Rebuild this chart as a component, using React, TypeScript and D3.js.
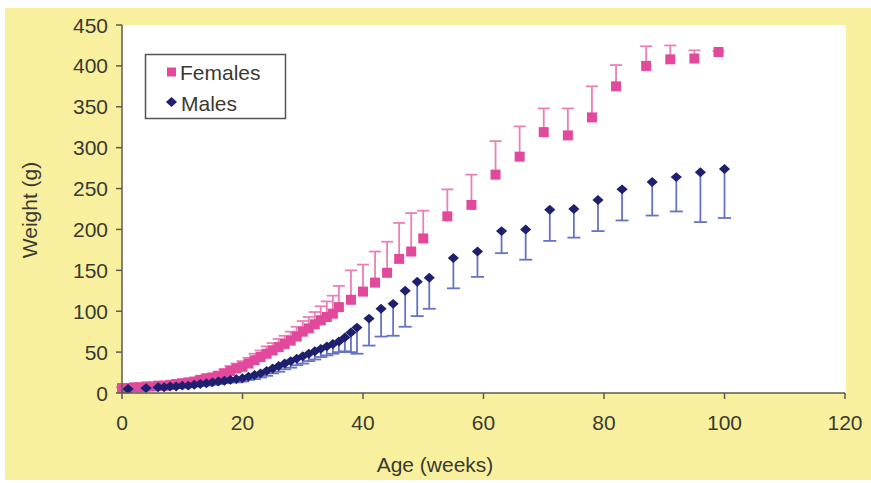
import React from 'react';
import * as d3 from 'd3';

// Females: age (weeks), mean weight (g), error (upper, g)
const femaleWeeks = [0, 1, 2, 3, 4, 5, 6, 7, 8, 9, 10, 11, 12, 13, 14, 15, 16, 17, 18, 19, 20, 21, 22, 23, 24, 25, 26, 27, 28, 29, 30, 31, 32, 33, 34, 35, 36,
    38, 40, 42, 44, 46, 48, 50, 54, 58, 62, 66, 70, 74, 78, 82, 87, 91, 95, 99];
const femaleWeight = [6, 6, 7, 7, 8, 8, 9, 9, 10, 11, 12, 13, 14, 16, 18, 19, 21, 24, 27, 30, 32, 36, 40, 44, 48, 52, 56, 60, 64, 69, 75, 79, 84, 89, 93, 97, 105,
    114, 124, 135, 147, 164, 173, 189, 216, 230, 267, 289, 319, 315, 337, 375, 400, 408, 409, 417];
const femaleErr = [1, 1, 1, 1, 1, 2, 2, 2, 2, 2, 3, 3, 3, 4, 4, 4, 5, 5, 6, 6, 7, 7, 8, 8, 9, 9, 10, 10, 11, 12, 13, 14, 15, 17, 19, 22, 26,
    36, 33, 38, 38, 44, 47, 34, 33, 37, 41, 37, 29, 33, 38, 26, 24, 17, 10, 1];

// Males: age (weeks), mean weight (g), error (lower, g)
const maleWeeks = [1, 4, 6, 7, 8, 9, 10, 11, 12, 13, 14, 15, 16, 17, 18, 19, 20, 21, 22, 23, 24, 25, 26, 27, 28, 29, 30, 31, 32, 33, 34, 35, 36, 37, 38, 39,
    41, 43, 45, 47, 49, 51, 55, 59, 63, 67, 71, 75, 79, 83, 88, 92, 96, 100];
const maleWeight = [5, 6, 7, 7, 8, 8, 9, 9, 10, 11, 12, 13, 14, 15, 16, 17, 18, 20, 22, 24, 27, 30, 33, 36, 39, 42, 45, 48, 51, 54, 57, 60, 63, 68, 74, 80,
    91, 103, 109, 125, 136, 141, 165, 173, 198, 200, 224, 225, 236, 249, 258, 264, 270, 274];
const maleErr = [1, 1, 1, 1, 1, 1, 2, 2, 2, 2, 3, 3, 3, 3, 3, 4, 4, 4, 5, 5, 6, 6, 7, 7, 8, 8, 9, 9, 10, 10, 11, 12, 13, 17, 24, 32,
    33, 34, 39, 44, 42, 38, 37, 31, 27, 37, 38, 35, 38, 38, 41, 42, 61, 60];

const xTicks = [0, 20, 40, 60, 80, 100, 120];
const yTicks = [0, 50, 100, 150, 200, 250, 300, 350, 400, 450];

const W = 871;
const H = 483;
const plot = { left: 122, right: 846, top: 25, bottom: 393 };

const FEMALE = '#e2489b';
const FEMALE_BAR = '#ec7fb8';
const MALE = '#1e1f6e';
const MALE_BAR = '#6673c2';
const AXIS = '#5a5a50';
const TEXT = '#3a3a30';
const FONT = '"Liberation Sans", Arial, sans-serif';

// flat Excel-style diamond, a bit wider than tall
const wideDiamond = {
    draw(ctx, size) {
        const hw = Math.sqrt(size) * 0.62;
        const hh = Math.sqrt(size) * 0.55;
        ctx.moveTo(0, -hh);
        ctx.lineTo(hw, 0);
        ctx.lineTo(0, hh);
        ctx.lineTo(-hw, 0);
        ctx.closePath();
    }
};

const App = () => {
    const x = d3.scaleLinear().domain([0, 120]).range([plot.left, 845]);
    const y = d3.scaleLinear().domain([0, 450]).range([plot.bottom, plot.top]);

    const females = femaleWeeks.map((w, i) => ({ w, v: femaleWeight[i], e: femaleErr[i] }));
    const males = maleWeeks.map((w, i) => ({ w, v: maleWeight[i], e: maleErr[i] }));

    const diamond = d3.symbol().type(wideDiamond).size(81)();

    return (
        <svg width={W} height={H} style={{ position: 'absolute', left: 0, top: 0 }} fontFamily={FONT}>
            <rect x={0} y={0} width={W} height={H} fill="#ffffff" />
            <rect x={5} y={8} width={W - 5} height={472} fill="#f8f09f" />
            <rect x={plot.left} y={plot.top} width={plot.right - plot.left} height={plot.bottom - plot.top} fill="#ffffff" />

            {/* female error bars (upper) */}
            {females.map((d, i) => (
                <g key={'fe' + i} stroke={FEMALE_BAR} strokeWidth={1.8}>
                    <line x1={x(d.w)} x2={x(d.w)} y1={y(d.v)} y2={y(d.v + d.e)} />
                    <line x1={x(d.w) - 6} x2={x(d.w) + 6} y1={y(d.v + d.e)} y2={y(d.v + d.e)} />
                </g>
            ))}
            {females.map((d, i) => (
                <rect key={'f' + i} x={x(d.w) - 5} y={y(d.v) - 5} width={10} height={10} fill={FEMALE} />
            ))}

            {/* male error bars (lower) */}
            {males.map((d, i) => (
                <g key={'me' + i} stroke={MALE_BAR} strokeWidth={1.8}>
                    <line x1={x(d.w)} x2={x(d.w)} y1={y(d.v)} y2={y(d.v - d.e)} />
                    <line x1={x(d.w) - 6.5} x2={x(d.w) + 6.5} y1={y(d.v - d.e)} y2={y(d.v - d.e)} />
                </g>
            ))}
            {males.map((d, i) => (
                <path key={'m' + i} d={diamond} transform={`translate(${x(d.w)},${y(d.v)})`} fill={MALE} />
            ))}

            {/* axes */}
            <line x1={plot.left} x2={plot.left} y1={plot.top} y2={plot.bottom} stroke={AXIS} strokeWidth={1.5} />
            <line x1={plot.left} x2={x(120)} y1={plot.bottom} y2={plot.bottom} stroke={AXIS} strokeWidth={1.5} />
            {yTicks.map(t => (
                <g key={'yt' + t}>
                    <line x1={plot.left - 6} x2={plot.left} y1={y(t)} y2={y(t)} stroke={AXIS} strokeWidth={1.5} />
                    <text x={108} y={y(t)} dy="0.36em" textAnchor="end" fontSize={21} fill={TEXT}>{t}</text>
                </g>
            ))}
            {xTicks.map(t => (
                <g key={'xt' + t}>
                    <line x1={x(t)} x2={x(t)} y1={plot.bottom} y2={plot.bottom + 6} stroke={AXIS} strokeWidth={1.5} />
                    <text x={x(t)} y={422} dy="0.36em" textAnchor="middle" fontSize={21} fill={TEXT}>{t}</text>
                </g>
            ))}

            <text x={435} y={464} dy="0.36em" textAnchor="middle" fontSize={21} fill={TEXT}>Age (weeks)</text>
            <text transform="translate(29,210) rotate(-90)" dy="0.36em" textAnchor="middle" fontSize={21} fill={TEXT}>Weight (g)</text>

            {/* legend */}
            <rect x={145.5} y={54.5} width={140} height={64} fill="#ffffff" stroke="#555" strokeWidth={1.5} />
            <rect x={167} y={67.5} width={9} height={9} fill={FEMALE} />
            <text x={180} y={72} dy="0.36em" fontSize={21} fill={TEXT}>Females</text>
            <path d={diamond} transform="translate(171.5,102)" fill={MALE} />
            <text x={181} y={103} dy="0.36em" fontSize={21} fill={TEXT}>Males</text>
        </svg>
    );
};

export default App;
